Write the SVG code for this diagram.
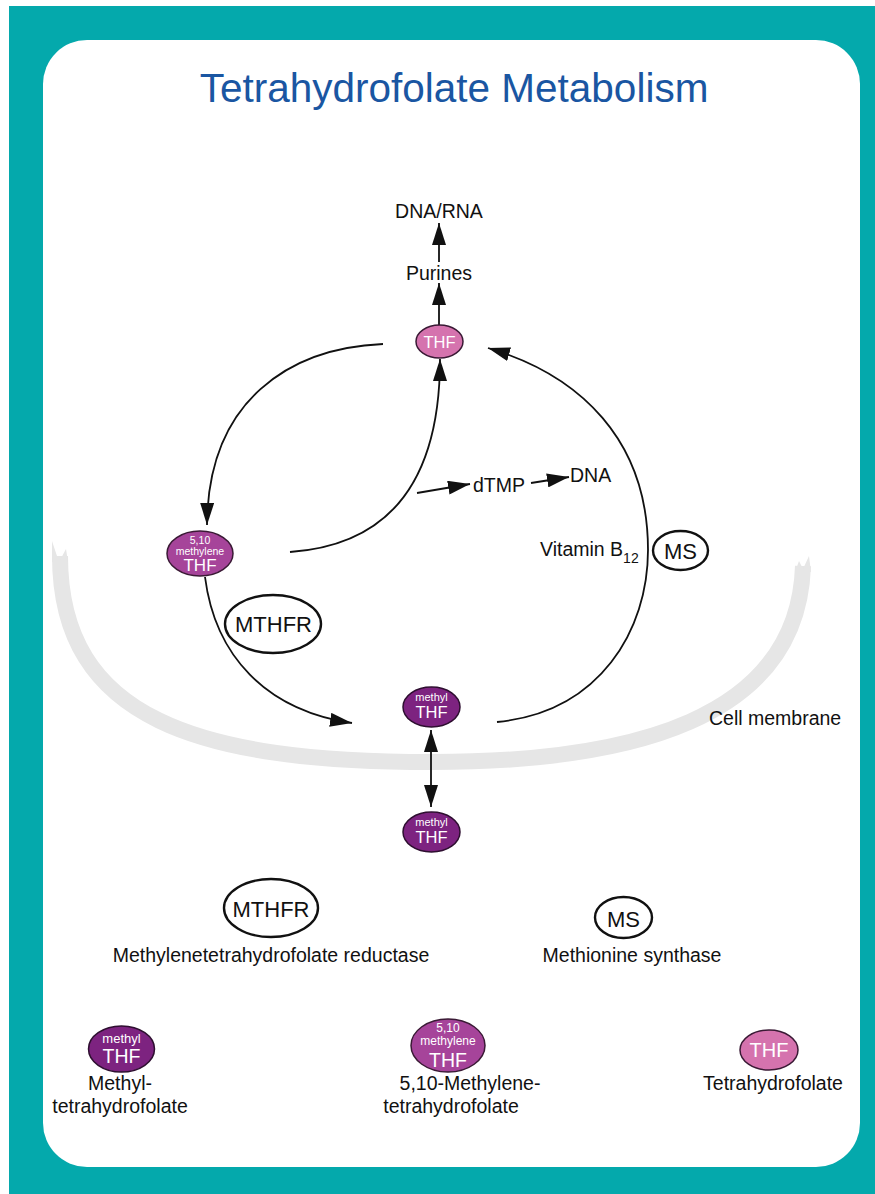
<svg xmlns="http://www.w3.org/2000/svg" width="875" height="1194" viewBox="0 0 875 1194">
<defs>
<style>
text{font-family:"Liberation Sans",Arial,Helvetica,sans-serif;fill:#111}
.lbl{font-size:19.5px}
.mid{text-anchor:middle}
.title{font-size:40.5px;fill:#1a56a2}
.enz{fill:#fff;stroke:#111;stroke-width:2.4}
.enzt{font-size:22px;text-anchor:middle}
.thf{fill:#d573ae;stroke:#3a1a35;stroke-width:1.5}
.mth{fill:#a6449a;stroke:#3a1a35;stroke-width:1.5}
.mel{fill:#7d2380;stroke:#2e0f30;stroke-width:1.5}
.nt{fill:#fff;text-anchor:middle}
.con{fill:none;stroke:#111;stroke-width:1.8}
</style>
<marker id="ah" viewBox="0 0 22 14" refX="22" refY="7" markerWidth="22" markerHeight="14" markerUnits="userSpaceOnUse" orient="auto">
<path d="M0,0 L22,7 L0,14 Z" fill="#111"/>
</marker>
<marker id="ahs" viewBox="0 0 22 14" refX="0" refY="7" markerWidth="22" markerHeight="14" markerUnits="userSpaceOnUse" orient="auto">
<path d="M22,0 L0,7 L22,14 Z" fill="#111"/>
</marker>
</defs>

<rect x="9" y="6" width="866" height="1188" fill="#04a9ac"/>
<rect x="43" y="40" width="817" height="1127" rx="44" ry="44" fill="#fff"/>

<text id="title" class="title mid" x="454" y="102">Tetrahydrofolate Metabolism</text>

<g id="membrane">
<path d="M60,556 C60,720 200,762 432,762 C630,762 798,720 803,566" fill="none" stroke="#e6e6e6" stroke-width="16"/>
<path d="M52,562 L52,541 L59,562 L66,549 L68,562 Z" fill="#e6e6e6"/>
<path d="M795,572 L799,561 L803,569 L809,556 L811,572 Z" fill="#e6e6e6"/>
<text class="lbl" x="709" y="725">Cell membrane</text>
</g>

<g id="connectors">
<path class="con" d="M439,325 L439,283" marker-end="url(#ah)"/>
<path class="con" d="M439,262 L439,223" marker-end="url(#ah)"/>
<path class="con" d="M383,344 C290,348 208,400 207,525" marker-end="url(#ah)"/>
<path class="con" d="M290,552 C390,545 440,480 440,359" marker-end="url(#ah)"/>
<path class="con" d="M417,493 L470,484" marker-end="url(#ah)"/>
<path class="con" d="M531,483 L569,477" marker-end="url(#ah)"/>
<path class="con" d="M205,577 C215,655 265,710 352,723" marker-end="url(#ah)"/>
<path class="con" d="M497,722 C600,712 648,630 648,550 C648,440 580,375 488,348" marker-end="url(#ah)"/>
<path class="con" d="M431,730 L431,807" marker-start="url(#ahs)" marker-end="url(#ah)"/>
</g>

<g id="dnarna"><text class="lbl mid" x="439" y="218">DNA/RNA</text></g>
<g id="purines"><text class="lbl mid" x="439" y="280">Purines</text></g>
<g id="dtmp"><text class="lbl" x="473" y="492">dTMP</text></g>
<g id="dna"><text class="lbl" x="570" y="482">DNA</text></g>
<g id="vitb12"><text class="lbl" x="540" y="556">Vitamin B<tspan font-size="14" dy="7">12</tspan></text></g>

<g id="thf-top">
<ellipse class="thf" cx="439.5" cy="341.5" rx="23.5" ry="16.5"/>
<text class="nt" x="439.5" y="347.5" font-size="16.5">THF</text>
</g>

<g id="methylene-thf">
<ellipse class="mth" cx="200" cy="553.5" rx="33" ry="22.5"/>
<text class="nt" x="200" y="543.5" font-size="10.5">5,10</text>
<text class="nt" x="200" y="555" font-size="10.5">methylene</text>
<text class="nt" x="200" y="570.5" font-size="17">THF</text>
</g>

<g id="mthfr">
<ellipse class="enz" cx="273" cy="624" rx="48" ry="29"/>
<text class="enzt" x="273.5" y="632">MTHFR</text>
</g>

<g id="ms">
<ellipse class="enz" cx="680.5" cy="550.5" rx="27.5" ry="19.5"/>
<text class="enzt" x="680.5" y="559">MS</text>
</g>

<g id="methyl-thf-in">
<ellipse class="mel" cx="431.5" cy="707" rx="28.5" ry="20"/>
<text class="nt" x="431.5" y="701" font-size="11">methyl</text>
<text class="nt" x="431.5" y="718" font-size="16.5">THF</text>
</g>

<g id="methyl-thf-out">
<ellipse class="mel" cx="431.5" cy="832" rx="28.5" ry="20"/>
<text class="nt" x="431.5" y="826" font-size="11">methyl</text>
<text class="nt" x="431.5" y="843" font-size="16.5">THF</text>
</g>

<g id="legend-mthfr">
<ellipse class="enz" cx="271" cy="908" rx="47" ry="29"/>
<text class="enzt" x="271" y="917" font-size="22.5">MTHFR</text>
<text class="lbl mid" x="271" y="962">Methylenetetrahydrofolate reductase</text>
</g>

<g id="legend-ms">
<ellipse class="enz" cx="623.5" cy="917.5" rx="28.5" ry="20.5"/>
<text class="enzt" x="623.5" y="926.5" font-size="22.5">MS</text>
<text class="lbl mid" x="632" y="962">Methionine synthase</text>
</g>

<g id="legend-methyl">
<ellipse class="mel" cx="121.5" cy="1049" rx="33" ry="23"/>
<text class="nt" x="121.5" y="1043" font-size="13">methyl</text>
<text class="nt" x="121.5" y="1063" font-size="19.5">THF</text>
<text class="lbl mid" x="120" y="1090">Methyl-</text>
<text class="lbl mid" x="120" y="1113">tetrahydrofolate</text>
</g>

<g id="legend-methylene">
<ellipse class="mth" cx="448" cy="1045.5" rx="37" ry="26.5"/>
<text class="nt" x="448" y="1032" font-size="12">5,10</text>
<text class="nt" x="448" y="1045" font-size="12">methylene</text>
<text class="nt" x="448" y="1066.5" font-size="19.5">THF</text>
<text class="lbl mid" x="470" y="1090">5,10-Methylene-</text>
<text class="lbl mid" x="451" y="1113">tetrahydrofolate</text>
</g>

<g id="legend-thf">
<ellipse class="thf" cx="769" cy="1050" rx="29" ry="20"/>
<text class="nt" x="769" y="1057" font-size="20">THF</text>
<text class="lbl mid" x="773" y="1090">Tetrahydrofolate</text>
</g>
</svg>
